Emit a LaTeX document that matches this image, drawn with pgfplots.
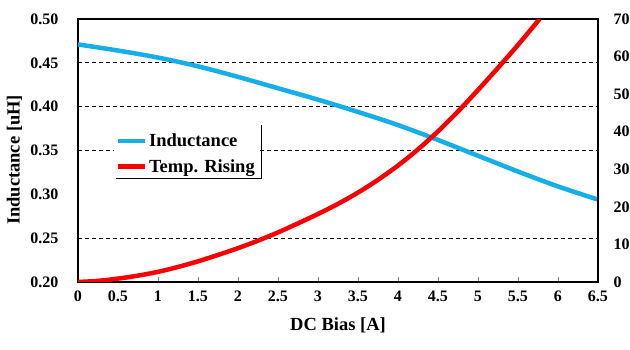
\documentclass[border=0pt]{standalone}
\usepackage{fontspec}
\setmainfont{Liberation Serif}
\usepackage{pgfplots}
\pgfplotsset{compat=1.18}
\definecolor{indblue}{RGB}{22,174,230}
\definecolor{trred}{RGB}{250,0,0}
\newcommand{\tickfont}{\fontsize{16}{18}\selectfont\bfseries}
\newcommand{\labfont}{\fontsize{18.5}{21}\selectfont\bfseries}
\begin{document}
\begin{tikzpicture}
\useasboundingbox (-78pt,-68pt) rectangle (552pt,282pt);
\begin{axis}[
  scale only axis, width=520pt, height=263pt,
  at={(0pt,0pt)}, anchor=south west,
  xmin=0, xmax=6.5, ymin=0.20, ymax=0.50,
  xtick={0,0.5,1,1.5,2,2.5,3,3.5,4,4.5,5,5.5,6,6.5},
  xticklabels={0,0.5,1,1.5,2,2.5,3,3.5,4,4.5,5,5.5,6,6.5},
  ytick={0.20,0.25,0.30,0.35,0.40,0.45,0.50},
  yticklabels={0.20,0.25,0.30,0.35,0.40,0.45,0.50},
  xtick pos=bottom, tick align=inside,
  xtick style={line width=0.6pt, gray},
  major tick length=5pt,
  ytick style={draw=none},
  extra y ticks={0.25,0.35,0.40,0.45},
  extra y tick labels={},
  extra y tick style={grid=major, tick style={draw=none}},
  major grid style={black, line width=1pt, dash pattern=on 4pt off 3pt},
  axis line style={line width=2pt},
  ticklabel style={font=\tickfont},
  yticklabel style={xshift=-16pt},
  xticklabel style={yshift=-5pt},
  xlabel={DC Bias [A]},
  ylabel={Inductance [uH]},
  label style={font=\labfont},
  xlabel style={at={(axis description cs:0.5,-0.165)}, anchor=center},
  ylabel style={at={(axis description cs:-0.122,0.464)}, anchor=center},
]
\addplot[indblue, line width=4.5pt, smooth] coordinates {
(0,0.471) (0.5,0.464) (1.0,0.456) (1.5,0.446) (2.0,0.434) (2.5,0.421)
(3.0,0.408) (3.5,0.394) (4.0,0.379) (4.5,0.362) (5.0,0.344) (5.5,0.326)
(6.0,0.309) (6.5,0.294)};
\coordinate (lgSW) at (rel axis cs:0.073,0.392);
\coordinate (lgSE) at (rel axis cs:0.352,0.392);
\coordinate (lgNE) at (rel axis cs:0.352,0.597);
\end{axis}
\begin{axis}[
  scale only axis, width=520pt, height=263pt,
  at={(0pt,0pt)}, anchor=south west,
  xmin=0, xmax=6.5, ymin=0, ymax=70,
  axis x line=none, axis y line*=right,
  ytick={0,10,20,30,40,50,60,70},
  yticklabels={0,10,20,30,40,50,60,70},
  ytick style={draw=none},
  axis line style={line width=2pt},
  ticklabel style={font=\tickfont},
  yticklabel style={xshift=12pt},
  legend style={draw=none, fill=white, at={(0.068,0.392)}, anchor=south west,
    inner xsep=2pt, inner ysep=3pt, row sep=7pt, font=\labfont},
  legend cell align=left,
  legend image code/.code={\draw[#1] (0pt,0pt) -- (27pt,0pt);},
]
\addlegendimage{indblue, line width=4.5pt}
\addlegendentry{Inductance}
\addplot[trred, line width=4.5pt, smooth] coordinates {
(0,0) (0.25,0.3) (0.5,0.9) (0.75,1.7) (1.0,2.7) (1.25,4.0) (1.5,5.5)
(1.75,7.2) (2.0,9.0) (2.25,11.0) (2.5,13.2) (2.75,15.6) (3.0,18.1)
(3.25,20.8) (3.5,23.8) (3.75,27.2) (4.0,31.0) (4.25,35.3) (4.5,40.1)
(4.75,45.4) (5.0,51.1) (5.25,57.0) (5.5,63.1) (5.77,70)};
\addlegendentry{Temp. Rising}
\end{axis}
\draw[line width=0.9pt] (lgSW) -- (lgSE) -- (lgNE);
\end{tikzpicture}
\end{document}
